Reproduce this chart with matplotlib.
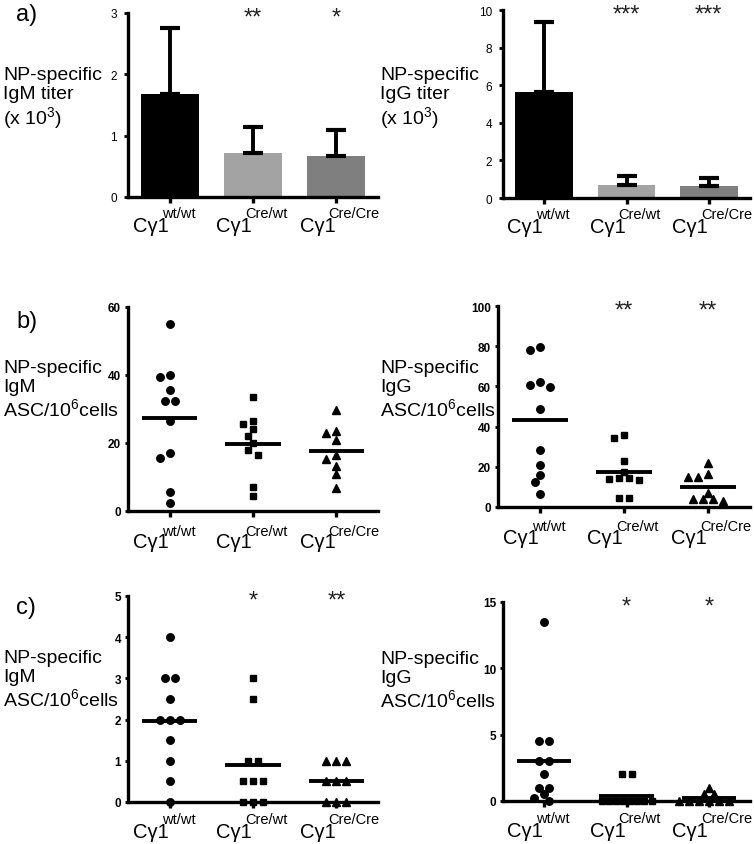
import numpy as np
import matplotlib.pyplot as plt

plt.rcParams['font.family'] = ['Liberation Sans', 'DejaVu Sans']
plt.rcParams['mathtext.fontset'] = 'custom'
plt.rcParams['mathtext.rm'] = 'Liberation Sans'
plt.rcParams['mathtext.default'] = 'regular'

groups = ['wt/wt', 'Cre/wt', 'Cre/Cre']

# a) serum titers (x 10^3): mean and SD
igm_titer = [1.68, 0.72, 0.67]
igm_titer_sd = [1.08, 0.42, 0.42]
igg_titer = [5.65, 0.70, 0.62]
igg_titer_sd = [3.70, 0.49, 0.43]
bar_colors = ['black', '#a3a3a3', '#7f7f7f']
igm_titer_stars = ['', '**', '*']
igg_titer_stars = ['', '***', '***']

# b) NP-specific ASC / 10^6 cells (first set)
b_igm_wt = [55, 40, 39.5, 35.5, 32.5, 32.5, 26.5, 17, 15.5, 5.5, 2.5]
b_igm_crewt = [33.5, 26.5, 25.5, 24, 22, 20, 18, 16.5, 7, 4.5]
b_igm_crecre = [29.8, 23.5, 22.9, 20.9, 16.4, 15.2, 13.3, 10.8, 6.9]
b_igg_wt = [79.6, 78.3, 62.2, 60.9, 59.7, 48.9, 28.5, 21.1, 15.8, 12.4, 6.6]
b_igg_crewt = [35.7, 34.3, 22.7, 17.4, 14.4, 14.4, 14.1, 13.3, 4.5, 4.5]
b_igg_crecre = [21.9, 16.6, 14.9, 14.9, 7.0, 4.1, 4.1, 4.1, 2.8]
b_igm_stars = ['', '', '']
b_igg_stars = ['', '**', '**']

# c) NP-specific ASC / 10^6 cells (second set)
c_igm_wt = [4, 3, 3, 2.5, 2, 2, 2, 1.5, 1, 0.5, 0]
c_igm_crewt = [3, 2.5, 1, 1, 0.5, 0.5, 0.5, 0, 0, 0]
c_igm_crecre = [1, 1, 1, 0.5, 0.5, 0.5, 0, 0, 0]
c_igg_wt = [13.5, 4.5, 4.5, 3, 3, 2, 1, 1, 0.5, 0.25, 0]
c_igg_crewt = [2, 2, 0, 0, 0, 0, 0, 0, 0, 0]
c_igg_crecre = [1, 0.5, 0.5, 0, 0, 0, 0, 0, 0]
c_igm_stars = ['', '*', '**']
c_igg_stars = ['', '*', '*']

W, H = 754, 845
fig = plt.figure(figsize=(W / 100, H / 100), dpi=100)
PT = 72 / 100  # points per pixel


def add_ax(x0, y0, x1, y1):
    # pixel box (top-left origin) -> figure fraction
    return fig.add_axes([x0 / W, 1 - y1 / H, (x1 - x0) / W, (y1 - y0) / H])


def style(ax, yticks, bold, main_drop, sup_drop):
    for s in ['top', 'right']:
        ax.spines[s].set_visible(False)
    for s in ['left', 'bottom']:
        ax.spines[s].set_linewidth(2.4)
    ax.set_xlim(-0.5, 2.5)
    ax.set_ylim(0, yticks[-1])
    ax.set_yticks(yticks)
    ax.set_xticks([0, 1, 2])
    ax.set_xticklabels([])
    ax.tick_params(axis='x', length=4, width=2.4)
    if bold:
        ax.tick_params(axis='y', length=2.5, width=2, pad=2.5, labelsize=8.5)
        for t in ax.get_yticklabels():
            t.set_fontweight('bold')
    else:
        ax.tick_params(axis='y', length=3, width=2, pad=5, labelsize=8.5)
    for i, g in enumerate(groups):
        ax.annotate('C\u03b31', xy=(i, 0), xycoords=('data', 'axes fraction'),
                    xytext=(-1 * PT, -main_drop * PT), textcoords='offset points',
                    ha='right', va='baseline', fontsize=14.5)
        ax.annotate(g, xy=(i, 0), xycoords=('data', 'axes fraction'),
                    xytext=(-8 * PT, -sup_drop * PT), textcoords='offset points',
                    ha='left', va='baseline', fontsize=10.5)


def stars(ax, marks):
    for i, m in enumerate(marks):
        if m:
            ax.annotate(m, xy=(i, 1), xycoords=('data', 'axes fraction'),
                        xytext=(0, -3), textcoords='offset points',
                        ha='center', va='center', fontsize=17, color='#222222',
                        annotation_clip=False)


def swarm_offsets(ax, vals, step_px=10, d_px=7.5, max_span_px=50):
    # column scatter: equal values side by side, others nudged off each other
    vals = np.asarray(vals, float)
    ypx = ax.transData.transform(np.c_[np.zeros(len(vals)), vals])[:, 1]
    dx = np.zeros(len(vals))
    placed = []
    for v in sorted(set(vals), reverse=True):
        idx = np.where(vals == v)[0]
        n = len(idx)
        st = step_px if n < 2 else min(step_px, max_span_px / (n - 1))
        row = (np.arange(n) - (n - 1) / 2) * st
        y = ypx[idx[0]]
        for c in [0, -5, 5, -10, 10, -15, 15, -20, 20]:
            ok = all(np.hypot(px - (row + c), py - y).min() >= d_px for px, py in placed)
            if ok:
                break
        for k, o in zip(idx, row + c):
            dx[k] = o
            placed.append((o, y))
    px_per_unit = ax.transData.transform((1, 0))[0] - ax.transData.transform((0, 0))[0]
    return dx / px_per_unit


def bar_panel(ax, vals, sd, yticks, marks):
    style(ax, yticks, False, 34, 20)
    x = np.arange(3)
    ax.bar(x, vals, width=0.7, color=bar_colors, zorder=2)
    ax.errorbar(x, vals, yerr=[np.zeros(3), sd], fmt='none', ecolor='black',
                elinewidth=2.8, capsize=7.5, capthick=3, zorder=3)
    stars(ax, marks)


def dot_panel(ax, sets, yticks, marks, main_drop, sup_drop):
    style(ax, yticks, True, main_drop, sup_drop)
    for i, (vals, m, ms) in enumerate(zip(sets, ['o', 's', '^'], [5.4, 5.0, 5.6])):
        dx = swarm_offsets(ax, vals)
        ax.plot(i + dx, vals, ls='none', marker=m, ms=ms, color='black',
                clip_on=False, zorder=3)
        ax.hlines(np.mean(vals), i - 0.33, i + 0.33, color='black', lw=2.8, zorder=4)
    stars(ax, marks)


ax = add_ax(128, 14, 378, 198)
bar_panel(ax, igm_titer, igm_titer_sd, [0, 1, 2, 3], igm_titer_stars)
ax = add_ax(503, 11, 750, 199)
bar_panel(ax, igg_titer, igg_titer_sd, [0, 2, 4, 6, 8, 10], igg_titer_stars)

ax = add_ax(128, 308, 378, 512)
dot_panel(ax, [b_igm_wt, b_igm_crewt, b_igm_crecre], [0, 20, 40, 60], b_igm_stars, 36, 24)
ax = add_ax(498, 307, 750, 508)
dot_panel(ax, [b_igg_wt, b_igg_crewt, b_igg_crecre], [0, 20, 40, 60, 80, 100], b_igg_stars, 36, 23)

ax = add_ax(128, 597, 378, 803)
dot_panel(ax, [c_igm_wt, c_igm_crewt, c_igm_crecre], [0, 1, 2, 3, 4, 5], c_igm_stars, 35, 21)
ax = add_ax(503, 603, 750, 802)
dot_panel(ax, [c_igg_wt, c_igg_crewt, c_igg_crecre], [0, 5, 10, 15], c_igg_stars, 35, 21)


def ylab(x, y, s):
    fig.text(x / W, 1 - y / H, s, ha='left', va='top', fontsize=14, linespacing=1.13)


ylab(3, 67, 'NP-specific\nIgM titer\n(x 10$^{3}$)')
ylab(380, 67, 'NP-specific\nIgG titer\n(x 10$^{3}$)')
ylab(3, 360, 'NP-specific\nIgM\nASC/10$^{6}$cells')
ylab(380, 360, 'NP-specific\nIgG\nASC/10$^{6}$cells')
ylab(3, 650, 'NP-specific\nIgM\nASC/10$^{6}$cells')
ylab(380, 651, 'NP-specific\nIgG\nASC/10$^{6}$cells')

for lab, yc in [('a)', 15), ('b)', 322), ('c)', 608)]:
    fig.text(16 / W, 1 - yc / H, lab, ha='left', va='center', fontsize=17)

fig.savefig('out.png', dpi=100)
